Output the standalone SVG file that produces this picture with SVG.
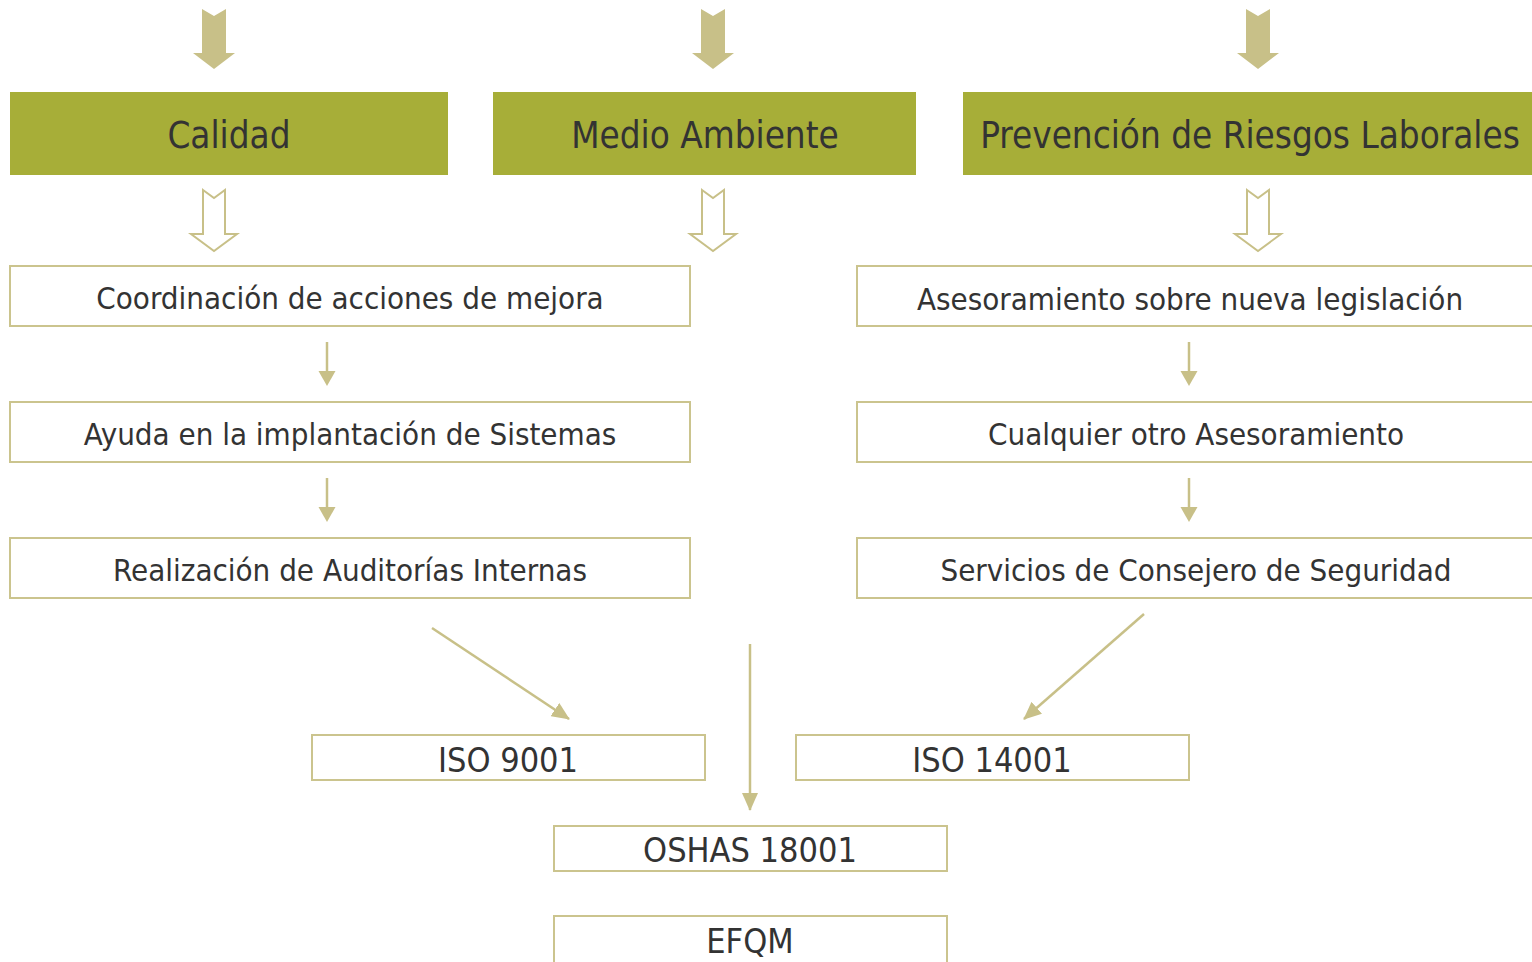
<svg xmlns="http://www.w3.org/2000/svg" width="1532" height="962" viewBox="0 0 1532 962">
<style>
.hd{fill:#a7ae38}
.bx{fill:#fff;stroke:#cbc48e;stroke-width:2}
.t{font-family:"DejaVu Sans Condensed","DejaVu Sans",sans-serif;fill:#333;text-anchor:middle}
.th{font-size:36.5px}
.ti{font-size:31px}
.tb{font-size:34px}
.fa{fill:#c8c088}
.ha{fill:#fff;stroke:#c8c088;stroke-width:2}
.ln{stroke:#c8c088;stroke-width:2.5;fill:none}
</style>
<defs>
<marker id="ah" markerWidth="18" markerHeight="16" refX="17" refY="8" orient="auto" markerUnits="userSpaceOnUse" viewBox="0 0 18 16">
<path d="M0,0 L18,8 L0,16 z" fill="#c8c088"/>
</marker>
<path id="fillArrow" d="M-12,9 L0,16 L12,9 L12,53 L21,53 L0,69 L-21,53 L-12,53 z"/>
<path id="holArrow" d="M-11,190 L0,198 L11,190 L11,234 L23,234 L0,251 L-23,234 L-11,234 z"/>
</defs>
<g id="top-arrows">
<use href="#fillArrow" class="fa" x="214"/>
<use href="#fillArrow" class="fa" x="713"/>
<use href="#fillArrow" class="fa" x="1258"/>
</g>
<g id="node-calidad"><rect class="hd" x="10" y="92" width="438" height="83"/><text class="t th" x="229" y="148">Calidad</text></g>
<g id="node-medio"><rect class="hd" x="493" y="92" width="423" height="83"/><text class="t th" x="705" y="148">Medio Ambiente</text></g>
<g id="node-prl"><rect class="hd" x="963" y="92" width="580" height="83"/><text class="t th" x="1250" y="148">Prevención de Riesgos Laborales</text></g>
<g id="hollow-arrows">
<use href="#holArrow" class="ha" x="214"/>
<use href="#holArrow" class="ha" x="713"/>
<use href="#holArrow" class="ha" x="1258"/>
</g>
<g id="node-coord"><rect class="bx" x="10" y="266" width="680" height="60"/><text class="t ti" x="350" y="309">Coordinación de acciones de mejora</text></g>
<g id="node-ayuda"><rect class="bx" x="10" y="402" width="680" height="60"/><text class="t ti" x="350" y="445">Ayuda en la implantación de Sistemas</text></g>
<g id="node-audit"><rect class="bx" x="10" y="538" width="680" height="60"/><text class="t ti" x="350" y="581">Realización de Auditorías Internas</text></g>
<g id="node-aseso"><rect class="bx" x="857" y="266" width="690" height="60"/><text class="t ti" x="1190" y="310">Asesoramiento sobre nueva legislación</text></g>
<g id="node-otro"><rect class="bx" x="857" y="402" width="690" height="60"/><text class="t ti" x="1196" y="445">Cualquier otro Asesoramiento</text></g>
<g id="node-consejero"><rect class="bx" x="857" y="538" width="690" height="60"/><text class="t ti" x="1196" y="581">Servicios de Consejero de Seguridad</text></g>
<g id="node-iso9001"><rect class="bx" x="312" y="735" width="393" height="45"/><text class="t tb" x="508" y="772">ISO 9001</text></g>
<g id="node-iso14001"><rect class="bx" x="796" y="735" width="393" height="45"/><text class="t tb" x="992" y="772">ISO 14001</text></g>
<g id="node-oshas"><rect class="bx" x="554" y="826" width="393" height="45"/><text class="t tb" x="750" y="862">OSHAS 18001</text></g>
<g id="node-efqm"><rect class="bx" x="554" y="916" width="393" height="60"/><text class="t tb" x="750" y="953">EFQM</text></g>
<g id="connectors">
<line class="ln" x1="327" y1="342" x2="327" y2="371"/>
<path class="fa" d="M318.5,371 L335.5,371 L327,386 z"/>
<line class="ln" x1="327" y1="478" x2="327" y2="507"/>
<path class="fa" d="M318.5,507 L335.5,507 L327,522 z"/>
<line class="ln" x1="1189" y1="342" x2="1189" y2="371"/>
<path class="fa" d="M1180.5,371 L1197.5,371 L1189,386 z"/>
<line class="ln" x1="1189" y1="478" x2="1189" y2="507"/>
<path class="fa" d="M1180.5,507 L1197.5,507 L1189,522 z"/>
<line class="ln" x1="432" y1="628" x2="569" y2="719" marker-end="url(#ah)"/>
<line class="ln" x1="1144" y1="614" x2="1024" y2="719" marker-end="url(#ah)"/>
<line class="ln" x1="750" y1="644" x2="750" y2="810" marker-end="url(#ah)"/>
</g>
</svg>
